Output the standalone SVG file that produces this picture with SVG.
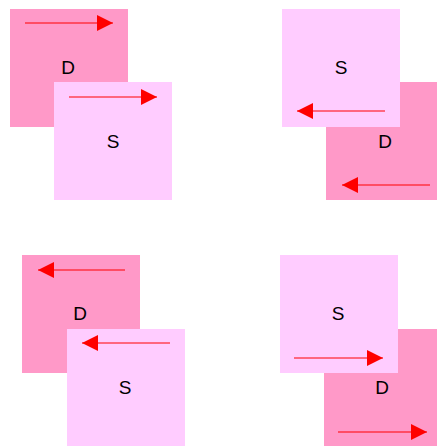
<svg xmlns="http://www.w3.org/2000/svg" width="437" height="446" viewBox="0 0 437 446">
<style>
.d{fill:#FF99C8}
.s{fill:#FFCCFF}
.t{font-family:"Liberation Sans",Arial,sans-serif;font-size:19px;fill:#000;text-anchor:middle}
.a{stroke:#FF0000;stroke-width:1.2;fill:none;marker-end:url(#ah)}
</style>
<defs>
<marker id="ah" markerUnits="userSpaceOnUse" markerWidth="16" markerHeight="16" viewBox="0 0 14 14" refX="14" refY="7" orient="auto">
<path d="M0,0 L14,7 L0,14 Z" fill="#FF0000"/>
</marker>
</defs>
<g id="n1-D"><rect class="d" x="10" y="9" width="118" height="118"/><text class="t" x="68" y="74">D</text></g>
<g id="n1-S"><rect class="s" x="54" y="82" width="118" height="118"/><text class="t" x="113" y="148">S</text></g>
<g id="n2-D"><rect class="d" x="326" y="82" width="118" height="118"/><text class="t" x="385" y="148">D</text></g>
<g id="n2-S"><rect class="s" x="282" y="9" width="118" height="118"/><text class="t" x="341" y="74">S</text></g>
<g id="n3-D"><rect class="d" x="22" y="255" width="118" height="118"/><text class="t" x="80" y="320">D</text></g>
<g id="n3-S"><rect class="s" x="67" y="329" width="118" height="118"/><text class="t" x="125" y="394">S</text></g>
<g id="n4-D"><rect class="d" x="324" y="329" width="118" height="118"/><text class="t" x="382" y="394">D</text></g>
<g id="n4-S"><rect class="s" x="280" y="255" width="118" height="118"/><text class="t" x="338" y="320">S</text></g>
<g id="connectors">
<line class="a" x1="25" y1="23" x2="113" y2="23"/>
<line class="a" x1="69" y1="97" x2="157" y2="97"/>
<line class="a" x1="385" y1="111" x2="297" y2="111"/>
<line class="a" x1="430" y1="185" x2="342" y2="185"/>
<line class="a" x1="125" y1="270" x2="38" y2="270"/>
<line class="a" x1="170" y1="343" x2="82" y2="343"/>
<line class="a" x1="294" y1="358" x2="383" y2="358"/>
<line class="a" x1="338" y1="432" x2="427" y2="432"/>
</g>
</svg>
